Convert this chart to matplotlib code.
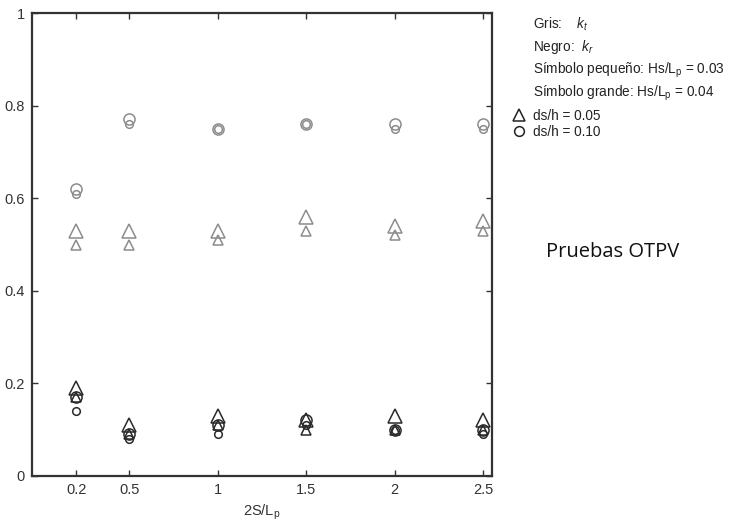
import matplotlib
matplotlib.use("Agg")
import matplotlib.pyplot as plt
from matplotlib.lines import Line2D

plt.rcParams['font.family'] = ['Liberation Sans', 'DejaVu Sans']
plt.rcParams['mathtext.fontset'] = 'custom'
plt.rcParams['mathtext.rm'] = 'Liberation Sans'
plt.rcParams['mathtext.it'] = 'Liberation Sans:italic'

# Relative spacing 2S/Lp
x = [0.2, 0.5, 1.0, 1.5, 2.0, 2.5]
x_labels = ['0.2', '0.5', '1', '1.5', '2', '2.5']

# Transmission coefficient kt (grey)
kt_tri_small = [0.50, 0.50, 0.51, 0.53, 0.52, 0.53]   # ds/h=0.05, Hs/Lp=0.03
kt_tri_large = [0.53, 0.53, 0.53, 0.56, 0.54, 0.55]   # ds/h=0.05, Hs/Lp=0.04
kt_circ_small = [0.61, 0.76, 0.75, 0.76, 0.75, 0.75]  # ds/h=0.10, Hs/Lp=0.03
kt_circ_large = [0.62, 0.77, 0.75, 0.76, 0.76, 0.76]  # ds/h=0.10, Hs/Lp=0.04

# Reflection coefficient kr (black)
kr_tri_small = [0.17, 0.09, 0.11, 0.10, 0.10, 0.10]
kr_tri_large = [0.19, 0.11, 0.13, 0.12, 0.13, 0.12]
kr_circ_small = [0.14, 0.08, 0.09, 0.11, 0.10, 0.09]
kr_circ_large = [0.17, 0.09, 0.11, 0.12, 0.10, 0.10]

grey = '#8c8c8c'
black = '#2a2a2a'

fig = plt.figure(figsize=(7.3, 5.27), dpi=100)
ax = fig.add_axes([0.0438, 0.0968, 0.6302, 0.8785])

def pts(y, marker, size, color):
    ax.plot(x, y, linestyle='none', marker=marker, markersize=size,
            markerfacecolor='none', markeredgecolor=color, markeredgewidth=1.1)

pts(kt_tri_large, '^', 10.5, grey)
pts(kt_tri_small, '^', 6.5, grey)
pts(kt_circ_large, 'o', 8, grey)
pts(kt_circ_small, 'o', 5.5, grey)
pts(kr_tri_large, '^', 10.5, black)
pts(kr_tri_small, '^', 6.5, black)
pts(kr_circ_large, 'o', 8, black)
pts(kr_circ_small, 'o', 5.5, black)

ax.set_xlim(-0.05, 2.55)
ax.set_ylim(0, 1)
ax.set_xticks(x)
ax.set_xticklabels(x_labels)
ax.set_yticks([0, 0.2, 0.4, 0.6, 0.8, 1.0])
ax.set_yticklabels(['0', '0.2', '0.4', '0.6', '0.8', '1'])
ax.tick_params(direction='in', top=True, right=True, length=4, width=1.0,
               labelsize=10.5, colors='#333333', pad=5)
for s in ax.spines.values():
    s.set_linewidth(1.6)
    s.set_color('#333333')
ax.set_xlabel(r'2S/L$_\mathregular{p}$', fontsize=10.5, color='#333333', labelpad=4)

# Notes on the right
tx = 533 / 730
def note(ypix, s):
    fig.text(tx, 1 - ypix / 527, s, fontsize=9.8, color='#222222', va='center', ha='left')

note(24, r'Gris:    $k_t$')
note(47, r'Negro:  $k_r$')
note(70, r'Símbolo pequeño: Hs/L$_\mathregular{p}$ = 0.03')
note(93, r'Símbolo grande: Hs/L$_\mathregular{p}$ = 0.04')
note(116, 'ds/h = 0.05')
note(132, 'ds/h = 0.10')
fig.add_artist(Line2D([519 / 730], [1 - 115 / 527], marker='^', markersize=8,
                      markerfacecolor='none', markeredgecolor='#222222',
                      markeredgewidth=1.1, transform=fig.transFigure))
fig.add_artist(Line2D([519 / 730], [1 - 131 / 527], marker='o', markersize=7,
                      markerfacecolor='none', markeredgecolor='#222222',
                      markeredgewidth=1.1, transform=fig.transFigure))

fig.text(546 / 730, 1 - 252 / 527, 'Pruebas OTPV', fontsize=14.5,
         family=['Open Sans', 'DejaVu Sans'], color='#111111', va='center', ha='left')

fig.savefig('out.png', dpi=100)
